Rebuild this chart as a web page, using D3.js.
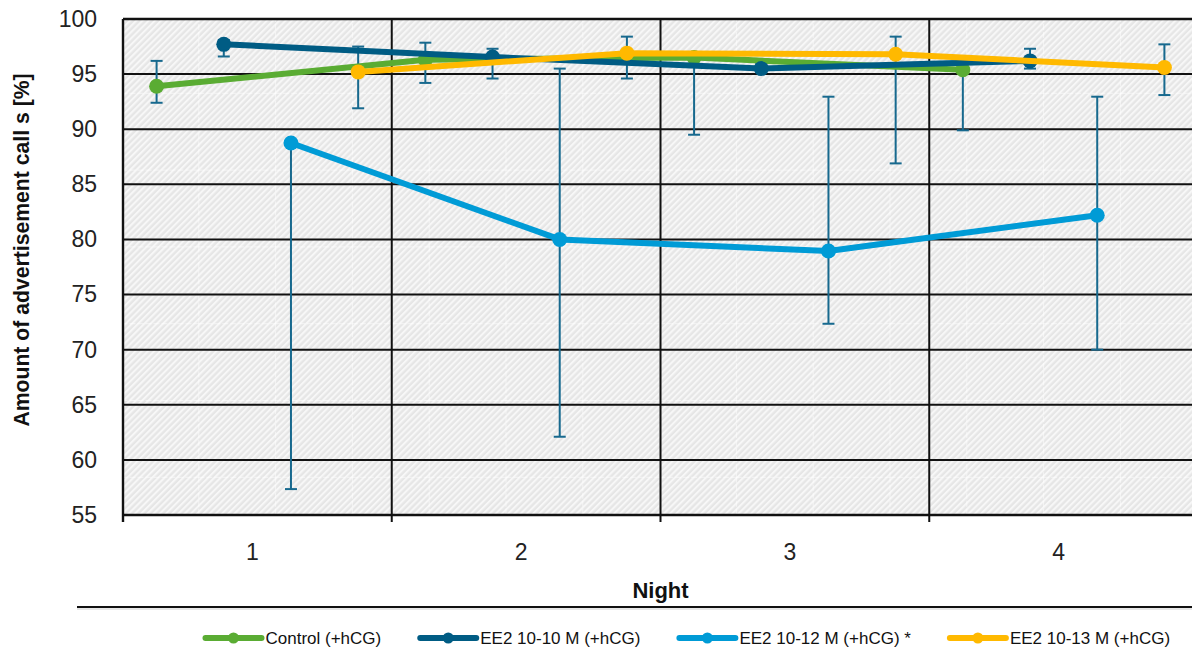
<!DOCTYPE html>
<html>
<head>
<meta charset="utf-8">
<script src="https://cdn.jsdelivr.net/npm/d3@7/dist/d3.min.js"></script>
<style>
  html, body { margin: 0; padding: 0; background: #ffffff; }
  svg { display: block; font-family: "Liberation Sans", Arial, sans-serif; }
</style>
</head>
<body>
<svg id="chart" width="1192" height="654"></svg>
<script>
// ---- data ----
const nights = ["1", "2", "3", "4"];
const seriesNames = ["Control (+hCG)", "EE2 10-10 M (+hCG)", "EE2 10-12 M (+hCG) *", "EE2 10-13 M (+hCG)"];
const seriesColors = ["#5aac33", "#005c84", "#009bd6", "#ffb900"];
const controlValues = [93.9, 96.3, 96.5, 95.4];
const controlLow    = [92.4, 94.2, 89.5, 89.9];
const controlHigh   = [96.2, 97.85, 96.9, 96.3];
const ee2_10Values  = [97.7, 96.55, 95.5, 96.2];
const ee2_10Low     = [96.6, 94.6, 95.2, 95.5];
const ee2_10High    = [98.1, 97.3, 95.9, 97.3];
const ee2_12Values  = [88.75, 80.0, 78.95, 82.2];
const ee2_12Low     = [57.35, 62.1, 72.35, 70.0];
const ee2_12High    = [89.0, 95.5, 92.95, 92.95];
const ee2_13Values  = [95.2, 96.9, 96.8, 95.6];
const ee2_13Low     = [91.9, 94.6, 86.9, 93.1];
const ee2_13High    = [97.5, 98.4, 98.4, 97.7];
const yTicks = [55, 60, 65, 70, 75, 80, 85, 90, 95, 100];
const yTitle = "Amount of advertisement call s [%]";
const xTitle = "Night";

const series = [
  { name: seriesNames[0], color: seriesColors[0], v: controlValues, lo: controlLow, hi: controlHigh },
  { name: seriesNames[1], color: seriesColors[1], v: ee2_10Values, lo: ee2_10Low, hi: ee2_10High },
  { name: seriesNames[2], color: seriesColors[2], v: ee2_12Values, lo: ee2_12Low, hi: ee2_12High },
  { name: seriesNames[3], color: seriesColors[3], v: ee2_13Values, lo: ee2_13Low, hi: ee2_13High }
];

// ---- layout ----
const plot = { left: 123, top: 19, right: 1198, bottom: 515 };
const errColor = "#17698e";

const svg = d3.select("#chart");
const x = d3.scaleBand().domain(nights).range([plot.left, plot.right]).padding(0);
const xs = d3.scaleBand().domain(seriesNames).range([0, x.bandwidth()]).padding(0);
const y = d3.scaleLinear().domain([55, 100]).range([plot.bottom, plot.top]);
const px = (si, i) => x(nights[i]) + xs(seriesNames[si]) + xs.bandwidth() / 2;

// ---- patterns ----
const defs = svg.append("defs");
const hatch = defs.append("pattern").attr("id", "hatch")
  .attr("patternUnits", "userSpaceOnUse").attr("width", 4.4).attr("height", 4.4)
  .attr("patternTransform", "rotate(45)");
hatch.append("rect").attr("width", 4.4).attr("height", 4.4).attr("fill", "#e6e6e6");
hatch.append("rect").attr("x", 0).attr("width", 2.1).attr("height", 4.4).attr("fill", "#f7f7f7");

const seams = defs.append("pattern").attr("id", "seams")
  .attr("patternUnits", "userSpaceOnUse").attr("x", 121.5).attr("y", 16)
  .attr("width", 76.8).attr("height", 76.8);
seams.append("line").attr("x1", 0.5).attr("x2", 0.5).attr("y1", 0).attr("y2", 76.8)
  .attr("stroke", "#ffffff").attr("stroke-width", 1).attr("stroke-opacity", 0.55).attr("stroke-dasharray", "6,2");
seams.append("line").attr("x1", 0).attr("x2", 76.8).attr("y1", 0.5).attr("y2", 0.5)
  .attr("stroke", "#ffffff").attr("stroke-width", 1).attr("stroke-opacity", 0.55).attr("stroke-dasharray", "6,2");

svg.append("rect").attr("x", plot.left).attr("y", plot.top)
  .attr("width", plot.right - plot.left).attr("height", plot.bottom - plot.top)
  .attr("fill", "url(#hatch)");
svg.append("rect").attr("x", plot.left).attr("y", plot.top)
  .attr("width", plot.right - plot.left).attr("height", plot.bottom - plot.top)
  .attr("fill", "url(#seams)");

// ---- grid ----
const grid = svg.append("g");
grid.selectAll("line.h").data(yTicks).join("line").attr("class", "h")
  .attr("x1", plot.left).attr("x2", plot.right)
  .attr("y1", d => y(d)).attr("y2", d => y(d))
  .attr("stroke", "#111").attr("stroke-width", 2);
grid.selectAll("line.v").data(nights).join("line").attr("class", "v")
  .attr("x1", d => x(d)).attr("x2", d => x(d))
  .attr("y1", plot.top).attr("y2", plot.bottom + 7)
  .attr("stroke", "#111").attr("stroke-width", 2);

// ---- y axis labels ----
const yAxis = d3.axisLeft(y).tickValues(yTicks).tickSize(0).tickPadding(26);
const gy = svg.append("g").attr("transform", `translate(${plot.left},0)`).call(yAxis);
gy.select(".domain").remove();
gy.selectAll("text").attr("font-size", 23).attr("fill", "#222")
  .attr("font-family", "Liberation Sans, Arial, sans-serif");

// ---- x axis labels ----
const xAxis = d3.axisBottom(x).tickSize(0).tickPadding(29);
const gx = svg.append("g").attr("transform", `translate(0,${plot.bottom})`).call(xAxis);
gx.select(".domain").remove();
gx.selectAll("text").attr("font-size", 23).attr("fill", "#222").attr("dx", -5)
  .attr("font-family", "Liberation Sans, Arial, sans-serif");

// ---- titles ----
svg.append("text").attr("x", (plot.left + plot.right) / 2).attr("y", 598)
  .attr("text-anchor", "middle").attr("font-size", 22).attr("font-weight", "bold")
  .attr("fill", "#111").text(xTitle);
svg.append("text").attr("transform", "translate(29,250) rotate(-90)")
  .attr("text-anchor", "middle").attr("font-size", 21.2).attr("font-weight", "bold")
  .attr("fill", "#111").text(yTitle);

// separator line
svg.append("line").attr("x1", 77).attr("x2", 1192).attr("y1", 607).attr("y2", 607)
  .attr("stroke", "#111").attr("stroke-width", 2.2);
svg.append("line").attr("x1", 77).attr("x2", 1192).attr("y1", 609).attr("y2", 609)
  .attr("stroke", "#cfcfcf").attr("stroke-width", 1);

// ---- error bars ----
const eb = svg.append("g");
series.forEach((s, si) => {
  s.v.forEach((v, i) => {
    const cx = px(si, i);
    const g = eb.append("g");
    g.append("line").attr("x1", cx).attr("x2", cx).attr("y1", y(s.lo[i])).attr("y2", y(s.hi[i]))
      .attr("stroke", errColor).attr("stroke-width", 2);
    [s.lo[i], s.hi[i]].forEach(e => {
      g.append("line").attr("x1", cx - 6).attr("x2", cx + 6).attr("y1", y(e)).attr("y2", y(e))
        .attr("stroke", errColor).attr("stroke-width", 2);
    });
  });
});

// ---- lines & markers ----
const lineGen = d3.line().x(d => d.x).y(d => y(d.v));
series.forEach((s, si) => {
  const pts = s.v.map((v, i) => ({ x: px(si, i), v }));
  svg.append("path").datum(pts).attr("d", lineGen).attr("fill", "none")
    .attr("stroke", s.color).attr("stroke-width", 6).attr("stroke-linejoin", "round");
  svg.append("g").selectAll("circle").data(pts).join("circle")
    .attr("cx", d => d.x).attr("cy", d => y(d.v)).attr("r", 7.5).attr("fill", s.color);
});

// ---- plot border (top, left, bottom) ----
svg.append("line").attr("x1", plot.left).attr("x2", plot.right).attr("y1", plot.top).attr("y2", plot.top)
  .attr("stroke", "#111").attr("stroke-width", 2.4);
svg.append("line").attr("x1", plot.left).attr("x2", plot.left).attr("y1", plot.top).attr("y2", plot.bottom + 7)
  .attr("stroke", "#111").attr("stroke-width", 2.4);
svg.append("line").attr("x1", plot.left).attr("x2", plot.right).attr("y1", plot.bottom).attr("y2", plot.bottom)
  .attr("stroke", "#111").attr("stroke-width", 2.4);

// ---- legend ----
const legend = svg.append("g");
let cursor = 205.5;
const ly = 638;
series.forEach((s) => {
  const g = legend.append("g");
  g.append("line").attr("x1", cursor).attr("x2", cursor + 56).attr("y1", ly).attr("y2", ly)
    .attr("stroke", s.color).attr("stroke-width", 6).attr("stroke-linecap", "round");
  g.append("circle").attr("cx", cursor + 28).attr("cy", ly).attr("r", 5.5).attr("fill", s.color);
  const t = g.append("text").attr("x", cursor + 60).attr("y", ly + 6)
    .attr("font-size", 17).attr("fill", "#111").text(s.name);
  cursor += 60 + t.node().getComputedTextLength() + 39;
});
</script>
</body>
</html>
